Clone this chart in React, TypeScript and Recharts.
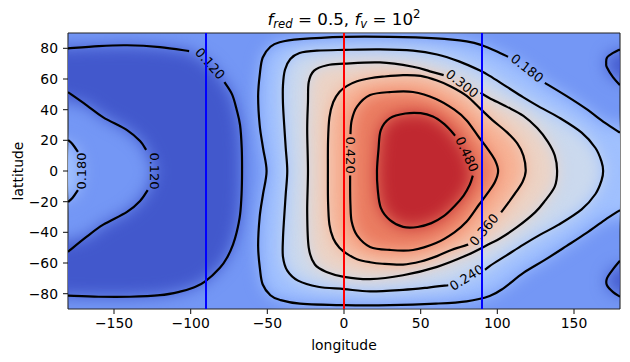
import React from 'react';
import { ScatterChart, Scatter, XAxis, YAxis, CartesianGrid } from 'recharts';

// ---------- axes ----------
const xTicks = [-150, -100, -50, 0, 50, 100, 150];
const yTicks = [-80, -60, -40, -20, 0, 20, 40, 60, 80];
const latRange = [-90, 90];
const redMeridians = [0];
const blueMeridians = [-90, 90];

// ---------- contour labels ----------
const contourLabels = [
  { lon: -87.4, lat: 70, text: '0.120', angle: 48 },
  { lon: -123.3, lat: 0, text: '0.120', angle: 90 },
  { lon: -171, lat: 0, text: '0.180', angle: -90 },
  { lon: 119.4, lat: 67, text: '0.180', angle: 38 },
  { lon: 80, lat: -69.5, text: '0.240', angle: -32 },
  { lon: 77, lat: 57, text: '0.300', angle: 38 },
  { lon: 91.3, lat: -38.4, text: '0.360', angle: -50 },
  { lon: 4, lat: 10.4, text: '0.420', angle: 90 },
  { lon: 80.2, lat: 11, text: '0.480', angle: 65 },
];

// ---------- contour segments [lon, lat] ----------
const c120Top = [[-180, 80], [-160, 81.5], [-141.5, 82], [-120, 80.8], [-101, 78.2]];
const c120Loop = [[-78, 58], [-73, 50], [-70, 40], [-67.8, 30], [-66.7, 15], [-66.5, 0], [-66.8, -15], [-67.8, -28.6], [-70, -40], [-72.4, -48], [-76, -56], [-80.9, -63.1], [-90.7, -72.2], [-98, -76], [-107, -78.7], [-120, -81], [-139.6, -82], [-160, -82], [-180, -81.3]];
const c120InnerUp = [[-180, 51.4], [-168, 43], [-157, 35], [-141.5, 26.7], [-133, 19.5], [-129, 13.7]];
const c120InnerDown = [[-128, -12.4], [-133, -19.5], [-141.5, -26.7], [-157, -35], [-168, -43], [-180, -52.7]];
const c120RightUp = [[180, 79.3], [175.5, 77], [171.5, 74], [171, 70], [171.5, 67.5], [175.5, 61], [180, 56]];
const c120RightDown = [[180, -58.5], [175.5, -64], [171.5, -70], [171.5, -74.5], [175.5, -79], [180, -82]];

const c180UpRight = [[131, 57.5], [145, 49], [158, 40.5], [170, 31.5], [180, 25]];
const c180Main = [[180, -25.5], [170, -32], [158, -40.5], [145, -49], [131, -58], [117, -66.5], [104, -76.5], [95, -81.5], [80, -85], [60, -86.5], [30, -87.5], [0, -87.5], [-28.7, -86.5], [-42, -84], [-48, -81], [-53, -74], [-54.8, -64], [-56, -49], [-55, -30], [-52.8, -15], [-50.5, 0], [-52.8, 15], [-55, 30], [-56, 49], [-54.8, 64], [-53, 74], [-48, 81], [-42, 84], [-28.7, 86], [0, 87.5], [30, 87.5], [60, 86.5], [80, 84.5], [90, 82], [101.7, 77], [107, 74.5]];
const c180LeftUp = [[-180, 20.2], [-177, 17.5], [-173.5, 12.5]];
const c180LeftDown = [[-173.5, -12.5], [-177, -17.5], [-180, -20.2]];

const c240 = [[92, -64.5], [95, -62], [106, -55], [117, -48], [128, -41.5], [140, -35], [155, -25], [164, -15], [168, -6], [169, 0], [168, 6], [164, 15], [155, 25], [140, 35], [128, 41.5], [117, 48], [106, 55], [95, 62], [88.7, 65.5], [75, 71.5], [60.7, 76], [45, 78.5], [23.5, 79.3], [0, 79], [-17.6, 78.5], [-29, 77], [-35, 73], [-38.5, 66], [-39.8, 56], [-39.8, 44], [-39, 30], [-38, 15], [-37, 0], [-38, -15], [-39, -30], [-39.8, -44], [-39.8, -56], [-37, -65], [-30, -71.5], [-17, -75.5], [0, -77], [17, -78.5], [38.5, -77.5], [55, -76], [68, -74.5]];

const c300 = [[89, 51], [95, 47.5], [106, 42], [117, 36], [126, 28], [133, 19], [137.5, 10], [139, 0], [137.5, -10], [131, -19.5], [124.6, -27], [113, -36.5], [101.7, -44], [95, -47.5], [80, -55], [60.7, -62.5], [38.5, -68], [17, -70.5], [0, -69], [-11, -66], [-19, -61], [-23, -50], [-24, -27], [-23.5, 0], [-24, 27], [-23.5, 45], [-23, 58], [-19.5, 65.5], [-11, 69], [0, 70], [23.5, 70.8], [45, 68], [56, 65], [65, 62.5]];

const c360 = [[102.5, -27], [107, -21], [112, -14], [116.5, -7], [118.5, 0], [117, 10], [113, 18], [106, 25.5], [97, 33], [89, 40.5], [80, 49], [70, 55], [60.7, 59], [50, 62], [38.5, 62.5], [25, 61.5], [17, 60.5], [8.5, 58.5], [2, 55.5], [-3, 51.5], [-7, 45], [-9.5, 35], [-10.4, 20], [-10.5, 0], [-10.4, -20], [-9.5, -35], [-7, -44], [-3, -50], [2, -54], [8.5, -57.5], [17, -59.5], [25, -60.5], [38.5, -61], [50, -59], [60.7, -55.5], [70, -51.5], [81, -48]];

const c420 = [[4, -3], [4, -12], [4.2, -22], [5, -33], [8.5, -42], [17, -49.5], [30, -51.5], [45, -51.5], [60, -47], [72, -40], [80, -33], [88, -22], [94, -14], [98.5, -7], [100.5, 0], [98.5, 7], [94, 14], [88, 22], [80, 33], [72, 40], [60, 47], [45, 51.5], [30, 51.5], [17, 49.5], [8.5, 42], [5, 33], [4.2, 24]];

const c480 = [[84, -3], [82, -9], [78, -16], [72, -23], [65, -29.5], [57, -34], [48, -36.5], [38.5, -36.4], [30, -32], [24, -24], [22, -12], [21.5, 0], [22.5, 14], [24, 26.7], [30, 34.5], [40, 37.5], [50, 37.7], [58, 35.5], [64.6, 31.2], [70, 26], [72.4, 23]];

// ---------- colours (coolwarm) ----------
const shade = {
  low: 'rgb(66,88,204)',
  b12: 'rgb(116,151,245)',
  b18: 'rgb(160,192,254)',
  b24: 'rgb(203,217,238)',
  b30: 'rgb(236,211,197)',
  b36: 'rgb(247,177,148)',
  b42: 'rgb(234,124,97)',
  b48: 'rgb(192,40,48)',
};

type Pt = { lon: number; lat: number };
const P = (a: number[][]): Pt[] => a.map(([lon, lat]) => ({ lon, lat }));
const lab = (i: number): Pt => ({ lon: contourLabels[i].lon, lat: contourLabels[i].lat });
const rev = (a: number[][]) => [...a].reverse();

// filled regions built from the contour segments
const fills: { data: Pt[]; color: string }[] = [
  { data: [...P(c120Top), lab(0), ...P(c120Loop), ...P(rev(c120InnerDown)), lab(1), ...P(rev(c120InnerUp))], color: shade.low },
  { data: P(c120RightUp), color: shade.low },
  { data: P(c120RightDown), color: shade.low },
  { data: [...P(c180Main), lab(3), ...P(c180UpRight)], color: shade.b18 },
  { data: [...P(c180LeftUp), lab(2), ...P(c180LeftDown)], color: shade.b18 },
  { data: [...P(c240), lab(4)], color: shade.b24 },
  { data: [...P(c300), lab(5)], color: shade.b30 },
  { data: [...P(c360), lab(6)], color: shade.b36 },
  { data: [...P(c420), lab(7)], color: shade.b42 },
  { data: [...P(c480), lab(8)], color: shade.b48 },
];

const strokes: Pt[][] = [
  c120Top, c120Loop, c120InnerUp, c120InnerDown, c120RightUp, c120RightDown,
  c180UpRight, c180Main, c180LeftUp, c180LeftDown, c240, c300, c360, c420, c480,
].map(P);

const meridianLine = (lon: number): Pt[] => latRange.map((lat) => ({ lon, lat }));

// ---------- render helpers ----------
function smoothPath(pts: { x: number; y: number }[]) {
  if (!pts || pts.length < 2) return '';
  let d = `M${pts[0].x},${pts[0].y}`;
  for (let i = 0; i < pts.length - 1; i++) {
    const p0 = pts[i - 1] || pts[i];
    const p1 = pts[i];
    const p2 = pts[i + 1];
    const p3 = pts[i + 2] || p2;
    const c1x = p1.x + (p2.x - p0.x) / 6;
    const c1y = p1.y + (p2.y - p0.y) / 6;
    const c2x = p2.x - (p3.x - p1.x) / 6;
    const c2y = p2.y - (p3.y - p1.y) / 6;
    d += ` C${c1x},${c1y} ${c2x},${c2y} ${p2.x},${p2.y}`;
  }
  return d;
}

const fillLine = (data: Pt[], color: string) => (props: any) => {
  const pts = (props.points || []).map((p: any, i: number) => ({
    x: p.x + (data[i].lon >= 180 ? 40 : data[i].lon <= -180 ? -40 : 0),
    y: p.y,
  }));
  if (!pts.length) return <g />;
  const d = 'M' + pts.map((p: any) => `${p.x},${p.y}`).join('L') + 'Z';
  return <path d={d} fill={color} stroke="none" filter="url(#shadeBlur)" />;
};

const strokeLine = (props: any) => (
  <path d={smoothPath(props.points)} fill="none" stroke="#000" strokeWidth={2.2} strokeLinejoin="round" />
);

const meridianStroke = (color: string) => (props: any) => {
  const pts = props.points || [];
  if (pts.length < 2) return <g />;
  return <line x1={pts[0].x} y1={pts[0].y} x2={pts[1].x} y2={pts[1].y} stroke={color} strokeWidth={2} />;
};

const NoDot = () => <g />;

const LabelShape = (props: any) => {
  const { cx, cy, payload } = props;
  return (
    <text
      x={cx}
      y={cy}
      transform={`rotate(${payload.angle} ${cx} ${cy})`}
      textAnchor="middle"
      dominantBaseline="central"
      fontSize={13}
      fill="#000"
    >
      {payload.text}
    </text>
  );
};

const TitleLabel = (props: any) => {
  const vb = props.viewBox || { x: 68, y: 0, width: 552, height: 33 };
  const cx = vb.x + vb.width / 2;
  const y = vb.y + vb.height - 8.5;
  return (
    <text x={cx} y={y} textAnchor="middle" fontSize={16.7} fill="#000" style={{ whiteSpace: 'pre' }}>
      <tspan fontStyle="italic">f</tspan>
      <tspan fontSize={11.7} fontStyle="italic" dy={3.5}>red</tspan>
      <tspan dy={-3.5}>{' = 0.5, '}</tspan>
      <tspan fontStyle="italic">f</tspan>
      <tspan fontSize={11.7} fontStyle="italic" dy={3.5}>v</tspan>
      <tspan dy={-3.5}>{' = 10'}</tspan>
      <tspan fontSize={11.7} dy={-6.5}>2</tspan>
    </text>
  );
};

const fmt = (v: number) => (v < 0 ? '\u2212' + Math.abs(v) : String(v));

export default function App() {
  return (
    <div style={{ position: 'absolute', left: 0, top: 0, fontFamily: "'DejaVu Sans', 'Liberation Sans', sans-serif" }}>
      <ScatterChart width={630} height={362} margin={{ top: 0, right: 0, bottom: 0, left: 8 }}>
        <defs>
          <filter id="shadeBlur" x="-50%" y="-50%" width="200%" height="200%" colorInterpolationFilters="sRGB">
            <feGaussianBlur stdDeviation={8} />
          </filter>
        </defs>
        <CartesianGrid fill={shade.b12} horizontal={false} vertical={false} />
        <XAxis
          dataKey="lon"
          type="number"
          domain={[-180, 180]}
          ticks={xTicks}
          interval={0}
          allowDataOverflow
          height={53}
          tickSize={5}
          tickMargin={4}
          tick={{ fill: '#000', fontSize: 13.9 }}
          tickFormatter={fmt}
          stroke="#222"
          strokeWidth={1.1}
          label={{ value: 'longitude', position: 'insideBottom', offset: 12.5, fill: '#000', fontSize: 13.9 }}
        />
        <XAxis
          xAxisId="top"
          orientation="top"
          type="number"
          domain={[-180, 180]}
          tick={false}
          tickLine={false}
          height={33}
          stroke="#222"
          strokeWidth={1.1}
          label={<TitleLabel />}
        />
        <YAxis
          dataKey="lat"
          type="number"
          domain={[-90, 90]}
          ticks={yTicks}
          interval={0}
          allowDataOverflow
          width={60}
          tickSize={5}
          tickMargin={5}
          tick={{ fill: '#000', fontSize: 13.9 }}
          tickFormatter={fmt}
          stroke="#222"
          strokeWidth={1.1}
          label={{ value: 'lattitude', angle: -90, position: 'insideLeft', offset: 10, fill: '#000', fontSize: 13.9, style: { textAnchor: 'middle' } }}
        />
        <YAxis
          yAxisId="right"
          orientation="right"
          type="number"
          domain={[-90, 90]}
          tick={false}
          tickLine={false}
          width={10}
          stroke="#222"
          strokeWidth={1.1}
        />
        {fills.map((f, i) => (
          <Scatter
            key={'fill' + i}
            data={f.data}
            isAnimationActive={false}
            shape={NoDot}
            line={fillLine(f.data, f.color)}
            lineType="joint"
            legendType="none"
          />
        ))}
        {strokes.map((s, i) => (
          <Scatter
            key={'stroke' + i}
            data={s}
            isAnimationActive={false}
            shape={NoDot}
            line={strokeLine}
            lineType="joint"
            legendType="none"
          />
        ))}
        <Scatter data={contourLabels} isAnimationActive={false} shape={LabelShape} legendType="none" />
        {redMeridians.map((m) => (
          <Scatter
            key={'r' + m}
            data={meridianLine(m)}
            isAnimationActive={false}
            shape={NoDot}
            line={meridianStroke('#ff0000')}
            lineType="joint"
            legendType="none"
          />
        ))}
        {blueMeridians.map((m) => (
          <Scatter
            key={'b' + m}
            data={meridianLine(m)}
            isAnimationActive={false}
            shape={NoDot}
            line={meridianStroke('#0000ff')}
            lineType="joint"
            legendType="none"
          />
        ))}
      </ScatterChart>
    </div>
  );
}
